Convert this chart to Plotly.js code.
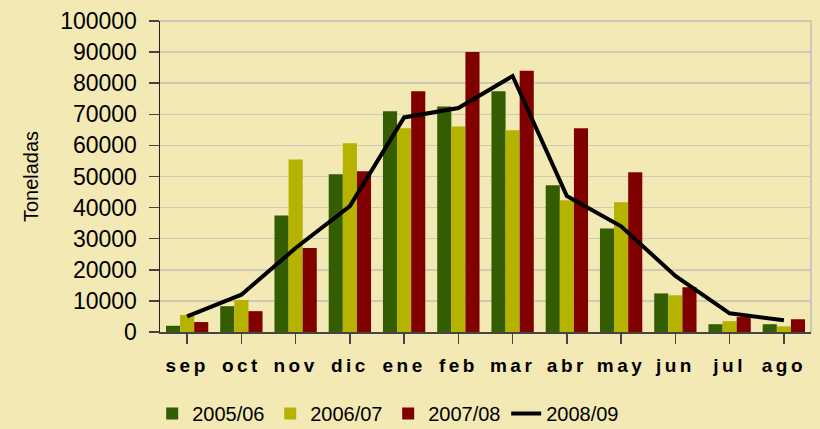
<!DOCTYPE html>
<html>
<head>
<meta charset="utf-8">
<script src="https://cdn.plot.ly/plotly-3.0.1.min.js"></script>
<style>
  html, body { margin: 0; padding: 0; background: #F3E9B5; }
  #chart { width: 820px; height: 429px; }
</style>
</head>
<body>
<div id="chart"></div>
<script>
const months = ['sep','oct','nov','dic','ene','feb','mar','abr','may','jun','jul','ago'];
const s2005 = [2000, 8300, 37500, 50700, 71000, 72500, 77400, 47200, 33300, 12400, 2500, 2500];
const s2006 = [5500, 10300, 55500, 60700, 65500, 66100, 64900, 42400, 41700, 11800, 3500, 1800];
const s2007 = [3200, 6700, 27000, 51700, 77400, 90000, 84000, 65500, 51400, 14400, 4800, 4100];
const s2008 = [5000, 12000, 27000, 40500, 69000, 72000, 82300, 43700, 34000, 18000, 6000, 3800];
const yTicks = [0,10000,20000,30000,40000,50000,60000,70000,80000,90000,100000];

const bg = '#F3E9B5';
const data = [
  {type:'bar', name:'2005/06', x: months, y: s2005, marker:{color:'#345C00'}},
  {type:'bar', name:'2006/07', x: months, y: s2006, marker:{color:'#B5B200'}},
  {type:'bar', name:'2007/08', x: months, y: s2007, marker:{color:'#800000'}},
  {type:'scatter', mode:'lines', name:'2008/09', x: months, y: s2008,
   line:{color:'#000000', width:4}}
];

const layout = {
  width: 820, height: 429,
  paper_bgcolor: bg, plot_bgcolor: bg,
  margin: {l:160, r:9, t:21, b:97, autoexpand:false},
  barmode: 'group', bargap: 0.22, bargroupgap: 0,
  font: {family: 'Arial, Liberation Sans, sans-serif', color: '#000'},
  showlegend: true,
  legend: {orientation:'h', x: -0.012, xanchor:'left', y: -0.262, yanchor:'middle',
           font:{size:20, family:'Arial, Liberation Sans, sans-serif'},
           itemwidth: 30,
           entrywidth: 73, entrywidthmode:'pixels', traceorder:'normal'},
  xaxis: {
    type:'category',
    tickvals: months,
    ticktext: months.map(m => '<span style="letter-spacing:3.5px">' + m + '</span>'),
    tickfont:{size:19, family:'Arial, Liberation Sans, sans-serif', weight:'bold'},
    ticks:'outside', ticklen:10, tickwidth:1.5, tickcolor:'#444',
    ticklabelstandoff: 6,
    showline:true, linecolor:'#444', linewidth:1.5,
    showgrid:false, zeroline:false, fixedrange:true
  },
  yaxis: {
    range:[0,100000], tickvals: yTicks, tickformat:'d',
    tickfont:{size:23, family:'Arial, Liberation Sans, sans-serif'},
    ticks:'outside', ticklen:10, tickwidth:1.5, tickcolor:'#444',
    showline:true, linecolor:'#222', linewidth:1.5,
    showgrid:true, gridcolor:'#CFCAB5', gridwidth:1.5,
    zeroline:false, ticklabelstandoff: 7,
    title:{text:'Toneladas', font:{size:20}, standoff: 16}
  },
  shapes: [
    {type:'line', xref:'paper', yref:'paper', x0:1, x1:1, y0:0, y1:1,
     line:{color:'#BDBDBD', width:1.5}},
    {type:'line', xref:'paper', yref:'paper', x0:0, x1:1, y0:1, y1:1,
     line:{color:'#BDBDBD', width:1.5}}
  ]
};

Plotly.newPlot('chart', data, layout, {displayModeBar:false, staticPlot:true});
</script>
</body>
</html>
